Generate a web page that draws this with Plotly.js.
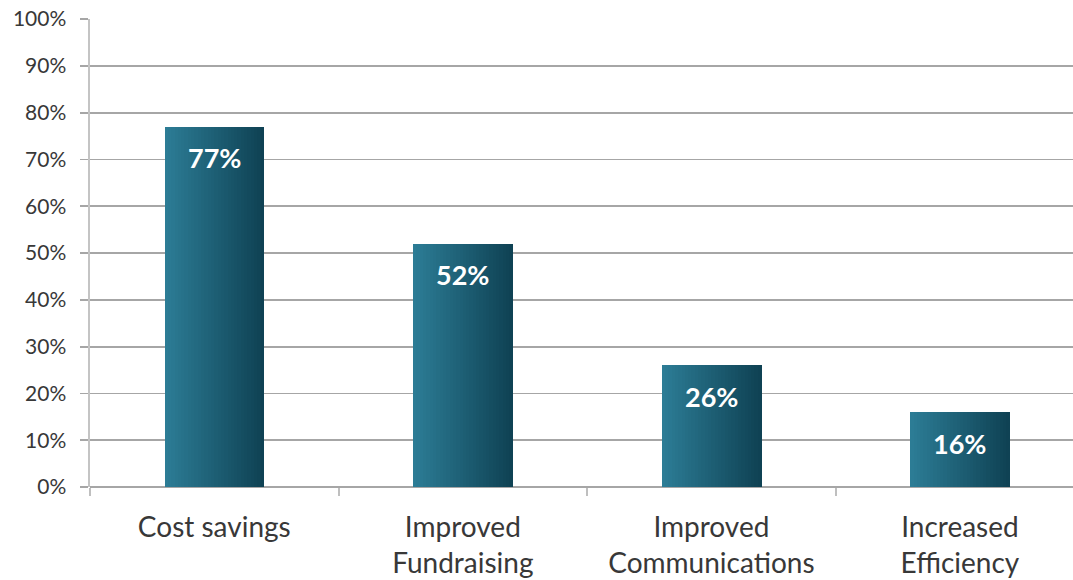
<!DOCTYPE html>
<html><head><meta charset="utf-8">
<script src="https://cdn.plot.ly/plotly-3.0.1.min.js"></script>
<style>html,body{margin:0;padding:0;background:#fff}#chart{width:1073px;height:580px}</style>
</head><body><div id="chart"></div>
<script>
const categories = ["Cost savings", "Improved<br>Fundraising", "Improved<br>Communications", "Increased<br>Efficiency"];
const values = [77, 52, 26, 16];
const valueLabels = ["77%", "52%", "26%", "16%"];
const yTickVals = [0,10,20,30,40,50,60,70,80,90,100];
const yTickText = ["0%","10%","20%","30%","40%","50%","60%","70%","80%","90%","100%"];

// horizontal gradient simulated with thin bar slices
const nSlices = 30, barWidth = 0.4;
const c0 = [44,124,149], c1 = [15,66,84];
const traces = [];
for (let i = 0; i < nSlices; i++) {
  const t = i / (nSlices - 1);
  const c = c0.map((v, k) => Math.round(v + (c1[k] - v) * t));
  traces.push({
    type: 'bar', x: categories, y: values,
    width: barWidth / nSlices + 0.002,
    offset: -barWidth / 2 + i * barWidth / nSlices,
    marker: {color: `rgb(${c.join(',')})`, line: {width: 0}},
    hoverinfo: 'skip', showlegend: false
  });
}
const annotations = categories.map((c, i) => ({
  x: c, y: values[i], xref: 'x', yref: 'y', text: valueLabels[i],
  showarrow: false, yanchor: 'middle', yshift: -31,
  font: {family: 'Lato, "Open Sans", sans-serif', size: 27, color: '#ffffff', weight: 'bold'}
}));
const layout = {
  width: 1073, height: 580,
  margin: {l: 90, r: 0, t: 19, b: 93},
  paper_bgcolor: '#fff', plot_bgcolor: '#fff',
  barmode: 'overlay', bargap: 0,
  showlegend: false,
  xaxis: {
    type: 'category', range: [-0.5, 3.455],
    showgrid: false, zeroline: false,
    showline: false,
    ticks: 'outside', ticklen: 8, tickcolor: '#bfbfbf', tickwidth: 2,
    tickson: 'boundaries',
    tickfont: {family: 'Lato, "Open Sans", sans-serif', size: 28, color: '#383838'},
    ticklabelstandoff: 21
  },
  yaxis: {
    range: [0, 100], tickvals: yTickVals, ticktext: yTickText,
    showgrid: true, gridcolor: '#a6a6a6', gridwidth: 1.8,
    zeroline: true, zerolinecolor: '#a6a6a6', zerolinewidth: 1.8,
    showline: true, linecolor: '#c4c4c4', linewidth: 2.5,
    ticks: 'outside', ticklen: 8, tickcolor: '#a6a6a6', tickwidth: 1.8,
    tickfont: {family: 'Lato, "Open Sans", sans-serif', size: 21, color: '#383838'},
    ticklabelstandoff: 9
  },
  annotations: annotations
};
Plotly.newPlot('chart', traces, layout, {displayModeBar: false, staticPlot: true});
</script></body></html>
